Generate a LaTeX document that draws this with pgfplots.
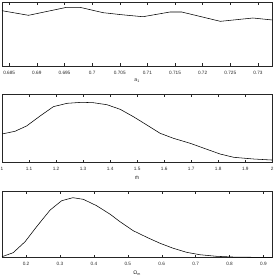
\documentclass[border=0pt]{standalone}
\usepackage{fontspec}
\setmainfont{Liberation Sans}
\usepackage{pgfplots}
\pgfplotsset{compat=1.18}
\pgfplotsset{
  panel/.style={
    scale only axis, width=270.3pt, anchor=south west,
    ymin=0, ymax=1, ytick=\empty,
    tick align=inside, major tick length=2.7pt,
    axis line style={black!85, line width=0.5pt},
    every tick/.style={black!85, line width=0.4pt},
    /pgf/number format/assume math mode=true,
    scaled x ticks=false,
    xticklabel style={font=\fontsize{4.7}{5}\selectfont, text=black!85, yshift=-1.2pt,
      /pgf/number format/.cd, fixed, precision=3},
    xlabel style={font=\fontsize{5.2}{6}\selectfont, text=black!85, at={(axis description cs:0.5,0)}, anchor=north, yshift=-9.5pt},
  },
  curve/.style={black, no markers, line width=0.55pt},
}
\begin{document}
\begin{tikzpicture}[x=1pt,y=1pt]
\useasboundingbox (0,0) rectangle (277,277);
% Panel 1
\begin{axis}[panel, at={(2pt,211pt)}, height=64pt,
  xmin=0.6837, xmax=0.7326,
  xtick={0.685,0.69,0.695,0.7,0.705,0.71,0.715,0.72,0.725,0.73},
  xlabel={a\textsubscript{1}}]
\addplot[curve] coordinates {
(0.6837,0.864) (0.6885,0.792) (0.6954,0.917) (0.6978,0.917) (0.7020,0.833)
(0.7055,0.800) (0.7092,0.770) (0.7141,0.844) (0.7162,0.844) (0.7232,0.698)
(0.7291,0.750) (0.7326,0.719)};
\end{axis}
% Panel 2
\begin{axis}[panel, at={(2pt,114.3pt)}, height=68.4pt,
  xmin=1, xmax=2,
  xtick={1,1.1,1.2,1.3,1.4,1.5,1.6,1.7,1.8,1.9,2},
  xlabel={$\hat{\textrm{m}}$}]
\addplot[curve] coordinates {
(1.000,0.420) (1.048,0.459) (1.091,0.537) (1.141,0.683) (1.190,0.819)
(1.240,0.868) (1.295,0.883) (1.338,0.877) (1.388,0.848) (1.437,0.781)
(1.486,0.673) (1.536,0.551) (1.585,0.430) (1.634,0.357) (1.696,0.284)
(1.758,0.196) (1.807,0.127) (1.857,0.079) (1.931,0.054) (1.999,0.039)};
\end{axis}
% Panel 3
\begin{axis}[panel, at={(2pt,19.5pt)}, height=65.8pt,
  xmin=0.129, xmax=0.926,
  xtick={0.2,0.3,0.4,0.5,0.6,0.7,0.8,0.9},
  xlabel={Ω\textsubscript{m}}]
\addplot[curve] coordinates {
(0.129,0.012) (0.162,0.073) (0.197,0.240) (0.231,0.468) (0.271,0.722)
(0.305,0.863) (0.338,0.909) (0.369,0.884) (0.408,0.787) (0.448,0.657)
(0.477,0.544) (0.516,0.407) (0.556,0.307) (0.595,0.216) (0.634,0.140)
(0.674,0.078) (0.713,0.042) (0.762,0.018) (0.811,0.007) (0.870,0.003) (0.926,0.002)};
\end{axis}
\end{tikzpicture}
\end{document}
